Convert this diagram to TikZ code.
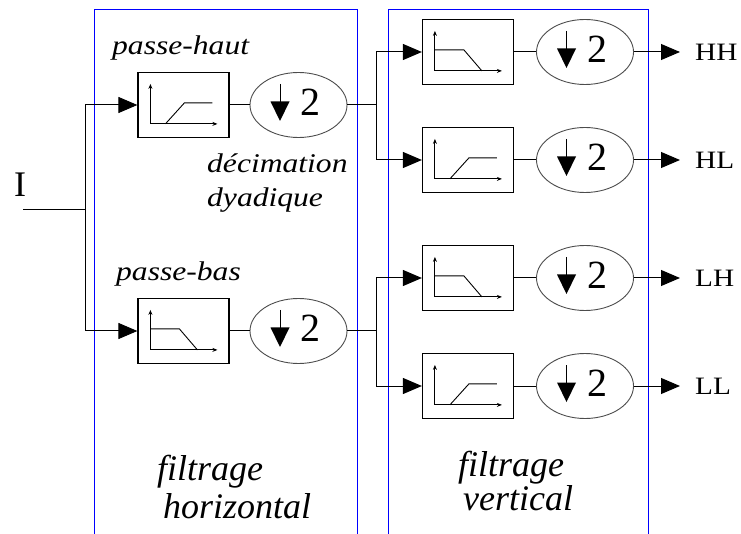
\documentclass[tikz,border=0pt]{standalone}
\usepackage{fontspec}
\setmainfont{Liberation Serif}
\newfontfamily\widefont{Liberation Serif}[FakeStretch=1.17]
\usetikzlibrary{arrows.meta,shapes.geometric}
\tikzset{
  filt/.style={draw,line width=1.2pt,minimum width=91pt,minimum height=65pt,inner sep=0pt},
  decim/.style={draw=black!70,ellipse,line width=0.9pt,minimum width=97pt,minimum height=65pt,inner sep=0pt},
  wire/.style={line width=1pt},
  arr/.style={wire,-{Triangle[length=19pt,width=16pt]}},
  axis/.style={line width=0.9pt,-{Stealth[length=5pt,width=4pt]}},
  curve/.style={line width=0.9pt},
  lab/.style={font=\widefont\itshape\fontsize{27}{34}\selectfont,anchor=base west,inner sep=0pt,align=left},
  bigh/.style={font=\itshape\fontsize{36}{38}\selectfont,anchor=base west,inner sep=0pt,align=left},
  bigv/.style={font=\itshape\fontsize{36}{32}\selectfont,anchor=base west,inner sep=0pt,align=left},
  outlab/.style={font=\widefont\fontsize{25}{25}\selectfont,anchor=west,inner sep=0pt},
  frame/.style={draw=blue,line width=1pt},
}
\newcommand\axes[1]{%
  \draw[axis] ([shift={(13,52)}]#1.north west) -- ([shift={(13,12)}]#1.north west);
  \draw[axis] ([shift={(13,52)}]#1.north west) -- ([shift={(80,52)}]#1.north west);}
\newcommand\hpcurve[1]{\axes{#1}%
  \draw[curve] ([shift={(28,52)}]#1.north west) -- ([shift={(47,31)}]#1.north west) -- ([shift={(75,31)}]#1.north west);}
\newcommand\lpcurve[1]{\axes{#1}%
  \draw[curve] ([shift={(13,31)}]#1.north west) -- ([shift={(42,31)}]#1.north west) -- ([shift={(60,52)}]#1.north west);}
\newcommand\decsym[1]{%
  \draw[line width=1pt] ([shift={(-18.5,-21)}]#1.center) -- ([shift={(-18.5,-3)}]#1.center);
  \fill ([shift={(-28,-3.5)}]#1.center) -- ([shift={(-9,-3.5)}]#1.center) -- ([shift={(-18.5,16)}]#1.center) -- cycle;
  \node[font=\fontsize{40}{40}\selectfont,inner sep=0pt] at ([shift={(12,-2.5)}]#1.center) {2};}
\begin{document}
\begin{tikzpicture}[x=1pt,y=-1pt]
\useasboundingbox (0,0) rectangle (741,534);
% frames
\draw[frame] (94,534) -- (94,10) -- (357,10) -- (357,534);
\draw[frame] (388,534) -- (388,10) -- (648,10) -- (648,534);
% first stage
\node[filt] (hb) at (183.5,105) {}; \hpcurve{hb}
\node[decim] (hd) at (298.5,105) {}; \decsym{hd}
\node[filt] (lb) at (183.5,331) {}; \lpcurve{lb}
\node[decim] (ld) at (298.5,331) {}; \decsym{ld}
% second stage
\node[filt] (hhb) at (468,52) {}; \lpcurve{hhb}
\node[decim] (hhd) at (585,52) {}; \decsym{hhd}
\node[filt] (hlb) at (468,160) {}; \hpcurve{hlb}
\node[decim] (hld) at (585,160) {}; \decsym{hld}
\node[filt] (lhb) at (468,278) {}; \lpcurve{lhb}
\node[decim] (lhd) at (585,278) {}; \decsym{lhd}
\node[filt] (llb) at (468,386) {}; \hpcurve{llb}
\node[decim] (lld) at (585,386) {}; \decsym{lld}
% input
\node[font=\fontsize{36}{36}\selectfont,inner sep=0pt] (in) at (20,185) {I};
\coordinate (i0) at (23,210);
\coordinate (j1) at (85,210);
\draw[wire] (i0) -- (j1);
\draw[arr] (j1) |- (hb.west);
\draw[arr] (j1) |- (lb.west);
\draw[wire] (hb.east) -- (hd.west);
\draw[wire] (lb.east) -- (ld.west);
\coordinate (j2) at (376,105);
\coordinate (j3) at (376,331);
\draw[wire] (hd.east) -- (j2);
\draw[wire] (ld.east) -- (j3);
\draw[arr] (j2) |- (hhb.west);
\draw[arr] (j2) |- (hlb.west);
\draw[arr] (j3) |- (lhb.west);
\draw[arr] (j3) |- (llb.west);
\foreach \n in {hh,hl,lh,ll} \draw[wire] (\n b.east) -- (\n d.west);
% outputs
\node[outlab] (hho) at (695,52) {HH};
\node[outlab] (hlo) at (695,160) {HL};
\node[outlab] (lho) at (695,278) {LH};
\node[outlab] (llo) at (695,386) {LL};
\foreach \n in {hh,hl,lh,ll} \draw[arr,shorten >=15pt] (\n d.east) -- (\n o.west);
% labels
\node[lab] (ph) at (112,55) {passe-haut};
\node[lab] (pb) at (116,281) {passe-bas};
\node[lab] (dc) at (207,207) {décimation\\dyadique};
\node[bigh] (fh) at (157,518) {filtrage\\\hspace*{6pt}horizontal};
\node[bigv] (fv) at (458,510) {filtrage\\\hspace*{5pt}vertical};
\end{tikzpicture}
\end{document}
